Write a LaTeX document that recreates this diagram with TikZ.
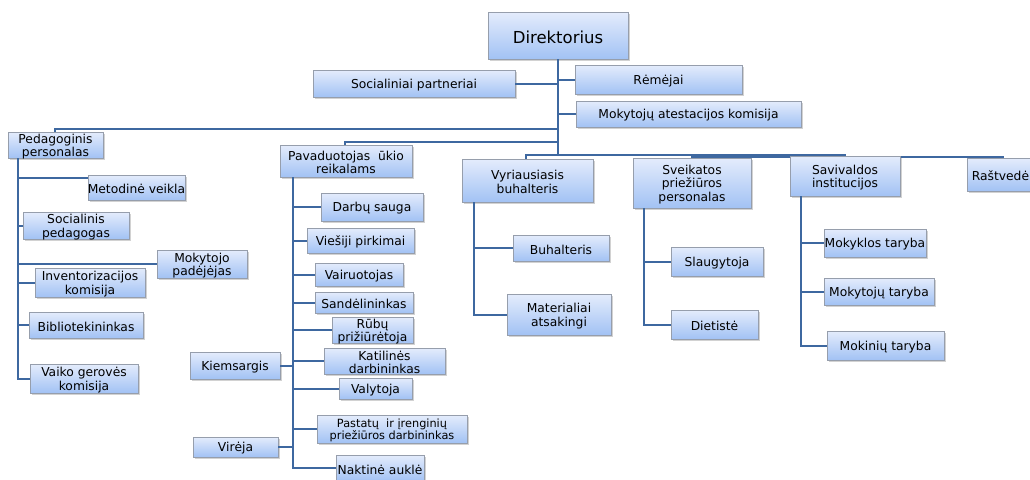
\documentclass[tikz,border=0pt]{standalone}
\usepackage{fontspec}
\setmainfont{DejaVu Sans}
\usetikzlibrary{shadows}
\definecolor{boxtop}{RGB}{228,236,252}
\definecolor{boxbot}{RGB}{162,194,244}
\definecolor{boxline}{RGB}{150,158,172}
\definecolor{lnk}{RGB}{62,104,160}
\tikzset{
  box/.style={draw=boxline, line width=0.8pt, top color=boxtop, bottom color=boxbot,
    inner sep=0pt,
    drop shadow={shadow xshift=1.5pt, shadow yshift=-1.5pt, opacity=0.35}},
  txt/.style={inner sep=0pt, align=center, font=\fontsize{12.3}{13.5}\selectfont},
  bigtxt/.style={txt, font=\fontsize{16.5}{19}\selectfont},
  smalltxt/.style={txt, font=\fontsize{11.3}{12.5}\selectfont},
  conn/.style={draw=lnk, line width=2pt}
}
\newcommand\bx[7][txt]{%
  \node[box,minimum width={(#5-#3)*1pt},minimum height={(#6-#4)*1pt}] (#2) at ({(#3+#5)/2},{(#4+#6)/2}) {};
  \node[#1] (#2-t) at ([yshift=-1.5pt]#2.center) {#7};}
\begin{document}
\begin{tikzpicture}[x=1pt,y=-1pt]
\useasboundingbox (0,0) rectangle (1030,479);
\clip (0,0) rectangle (1030,479);
\fill[white] (0,0) rectangle (1030,479);

% ---- connector anchors
\coordinate (tk) at (558,155);
\coordinate (pedIn) at (55,129);
\coordinate (pavIn) at (345,142);
\coordinate (vbIn) at (526,155);
\coordinate (savIn) at (845,155);
\coordinate (svIn) at (692,155);
\coordinate (raIn) at (1003,157);
\coordinate (pedT) at (18,0);
\coordinate (pavT) at (293,0);
\coordinate (vbT) at (474,0);
\coordinate (svT) at (644,0);
\coordinate (savT) at (801,0);

% ---- top boxes
\bx[bigtxt]{dir}{488}{12}{628}{59}{Direktorius}
\bx{soc}{313}{70}{515}{97}{Socialiniai partneriai}
\bx{rem}{575}{65}{742}{94}{Rėmėjai}
\bx{ates}{576}{101}{801}{127}{Mokytojų atestacijos komisija}

\draw[conn] (dir.south) -- (tk);
\draw[conn] (soc.east) -- (dir.south |- soc.east);
\draw[conn] (dir.south |- rem.west) -- (rem.west);
\draw[conn] (dir.south |- ates.west) -- (ates.west);
\draw[conn] (dir.south |- pedIn) -- (pedIn) -- (pedIn |- 0,133);
\draw[conn] (dir.south |- pavIn) -- (pavIn) -- (pavIn |- 0,146);
\draw[conn] (tk) -- (vbIn) -- (vbIn |- 0,160);
\draw[conn] (tk) -- (savIn) -- (savIn |- 0,157);
\draw[conn] (svIn) -- (svIn |- 0,159);
\draw[conn] (svIn |- raIn) -- (raIn) -- (raIn |- 0,159);

% Pedagoginis personalas
\bx{ped}{8}{132}{103}{158}{Pedagoginis\\personalas}
\bx{met}{88}{175}{185}{200}{Metodinė veikla}
\bx{socp}{23}{212}{129}{239}{Socialinis\\pedagogas}
\bx{inv}{35}{268}{145}{297}{Inventorizacijos\\komisija}
\bx{pad}{157}{250}{247}{278}{Mokytojo\\padėjėjas}
\bx{bib}{29}{312}{143}{338}{Bibliotekininkas}
\bx{vai}{30}{364}{138}{393}{Vaiko gerovės\\komisija}

% Pavaduotojas ukio reikalams
\bx{pav}{280}{145}{412}{177}{Pavaduotojas \ ūkio\\reikalams}
\bx{dar}{321}{193}{423}{221}{Darbų sauga}
\bx{vie}{307}{228}{414}{253}{Viešiji pirkimai}
\bx{vair}{315}{263}{403}{286}{Vairuotojas}
\bx{san}{315}{292}{413}{313}{Sandėlininkas}
\bx{rub}{332}{317}{413}{343}{Rūbų\\prižiūrėtoja}
\bx{kat}{324}{348}{445}{374}{Katilinės\\darbininkas}
\bx{val}{339}{378}{412}{399}{Valytoja}
\bx[smalltxt]{pas}{317}{415}{467}{443}{Pastatų \ ir įrenginių\\priežiūros darbininkas}
\bx{nak}{336}{455}{424}{481}{Naktinė auklė}
\bx{kie}{190}{352}{280}{379}{Kiemsargis}
\bx{vir}{193}{437}{278}{457}{Virėja}

% Vyriausiasis buhalteris
\bx{vb}{462}{159}{593}{202}{Vyriausiasis\\buhalteris}
\bx{buh}{513}{235}{609}{261}{Buhalteris}
\bx{mat}{507}{294}{611}{335}{Materialiai\\atsakingi}

% Sveikatos prieziuros personalas
\bx{sv}{633}{158}{751}{208}{Sveikatos\\priežiūros\\personalas}
\bx{sla}{671}{247}{763}{276}{Slaugytoja}
\bx{die}{671}{310}{758}{339}{Dietistė}

% Savivaldos institucijos
\bx{sav}{790}{156}{900}{196}{Savivaldos\\institucijos}
\bx{mky}{824}{229}{926}{257}{Mokyklos taryba}
\bx{mkt}{824}{278}{934}{305}{Mokytojų taryba}
\bx{mkn}{827}{331}{944}{360}{Mokinių taryba}

% Rastvede (cut by the right edge)
\node[box, minimum width=90pt, minimum height=33pt] (ras) at (1012,174.5) {};
\node[txt, anchor=west] (ras-t) at ([xshift=5pt,yshift=-1.5pt]ras.west) {Raštvedė};

% ---- sub-connectors
\draw[conn] (pedT |- ped.south) -- (pedT |- vai.west) -- (vai.west);
\draw[conn] (pedT |- 0,178) -- (met.west |- 0,178);
\draw[conn] (pedT |- socp.west) -- (socp.west);
\draw[conn] (pedT |- pad.west) -- (pad.west);
\draw[conn] (pedT |- inv.west) -- (inv.west);
\draw[conn] (pedT |- bib.west) -- (bib.west);

\draw[conn] (pavT |- pav.south) -- (pavT |- nak.west) -- (nak.west);
\foreach \n in {dar,vie,vair,san,rub,kat,val,pas}
  \draw[conn] (pavT |- \n.west) -- (\n.west);
\draw[conn] (kie.east) -- (pavT |- kie.east);
\draw[conn] (vir.east) -- (pavT |- vir.east);

\draw[conn] (vbT |- vb.south) -- (vbT |- mat.west) -- (mat.west);
\draw[conn] (vbT |- buh.west) -- (buh.west);

\draw[conn] (svT |- sv.south) -- (svT |- die.west) -- (die.west);
\draw[conn] (svT |- sla.west) -- (sla.west);

\draw[conn] (savT |- sav.south) -- (savT |- mkn.west) -- (mkn.west);
\draw[conn] (savT |- mky.west) -- (mky.west);
\draw[conn] (savT |- mkt.west) -- (mkt.west);
\end{tikzpicture}
\end{document}
